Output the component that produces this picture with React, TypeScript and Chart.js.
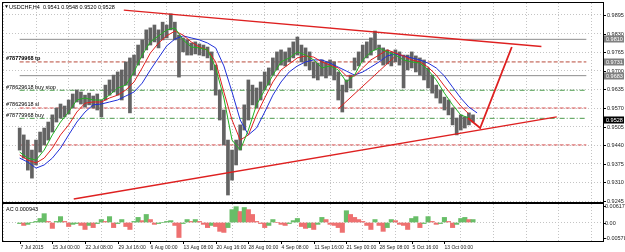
import React, { useEffect, useRef } from 'react';
import { Chart, registerables } from 'chart.js';
Chart.register(...registerables);

// ---------- data ----------
const SAMPLE_STEP = 4; // H4 bars per price / AC sample
const MA_STEP = 8; // H4 bars per moving-average sample
const TICK_STEP = 32; // H4 bars between time labels
const X_MAX = 555;

const timeLabels = [
  '7 Jul 2015', '15 Jul 00:00', '22 Jul 08:00', '29 Jul 16:00', '6 Aug 00:00', '13 Aug 08:00',
  '20 Aug 16:00', '28 Aug 00:00', '4 Sep 08:00', '11 Sep 16:00', '21 Sep 00:00', '28 Sep 08:00',
  '5 Oct 16:00', '13 Oct 00:00',
];

const highs = [
  0.9500, 0.9476, 0.9458, 0.9423, 0.9458, 0.9486, 0.9500, 0.9521, 0.9546, 0.9570,
  0.9584, 0.9577, 0.9598, 0.9619, 0.9633, 0.9626, 0.9615, 0.9622, 0.9612, 0.9619,
  0.9598, 0.9650, 0.9668, 0.9685, 0.9696, 0.9703, 0.9731, 0.9745, 0.9755, 0.9790,
  0.9808, 0.9843, 0.9850, 0.9860, 0.9843, 0.9870, 0.9860, 0.9899, 0.9870, 0.9825,
  0.9815, 0.9808, 0.9797, 0.9801, 0.9794, 0.9790, 0.9783, 0.9766, 0.9720, 0.9633,
  0.9563, 0.9458, 0.9423, 0.9458, 0.9511, 0.9581, 0.9668, 0.9650, 0.9640, 0.9661,
  0.9696, 0.9710, 0.9745, 0.9766, 0.9773, 0.9766, 0.9780, 0.9801, 0.9818, 0.9790,
  0.9780, 0.9766, 0.9731, 0.9727, 0.9738, 0.9731, 0.9738, 0.9731, 0.9696, 0.9650,
  0.9668, 0.9685, 0.9745, 0.9766, 0.9790, 0.9801, 0.9815, 0.9839, 0.9790, 0.9780,
  0.9773, 0.9766, 0.9773, 0.9766, 0.9755, 0.9755, 0.9766, 0.9752, 0.9745, 0.9738,
  0.9710, 0.9685, 0.9650, 0.9633, 0.9608, 0.9598, 0.9570, 0.9535, 0.9546, 0.9539,
  0.9553, 0.9546,
];
const lows = [
  0.9423, 0.9395, 0.9353, 0.9325, 0.9371, 0.9416, 0.9441, 0.9458, 0.9486, 0.9521,
  0.9535, 0.9539, 0.9549, 0.9570, 0.9591, 0.9584, 0.9573, 0.9581, 0.9570, 0.9563,
  0.9539, 0.9598, 0.9615, 0.9626, 0.9615, 0.9598, 0.9650, 0.9553, 0.9685, 0.9720,
  0.9745, 0.9773, 0.9790, 0.9801, 0.9780, 0.9808, 0.9815, 0.9843, 0.9808, 0.9678,
  0.9766, 0.9755, 0.9755, 0.9759, 0.9755, 0.9752, 0.9745, 0.9703, 0.9615, 0.9528,
  0.9441, 0.9266, 0.9318, 0.9371, 0.9423, 0.9493, 0.9528, 0.9581, 0.9570, 0.9598,
  0.9633, 0.9650, 0.9685, 0.9703, 0.9720, 0.9717, 0.9731, 0.9745, 0.9755, 0.9731,
  0.9717, 0.9703, 0.9675, 0.9668, 0.9682, 0.9675, 0.9685, 0.9668, 0.9598, 0.9556,
  0.9626, 0.9640, 0.9703, 0.9717, 0.9731, 0.9745, 0.9755, 0.9773, 0.9738, 0.9720,
  0.9724, 0.9717, 0.9731, 0.9720, 0.9640, 0.9703, 0.9710, 0.9696, 0.9685, 0.9668,
  0.9640, 0.9622, 0.9605, 0.9587, 0.9563, 0.9546, 0.9511, 0.9476, 0.9493, 0.9500,
  0.9511, 0.9521,
];

const maFast = [
  0.9416, 0.9395, 0.9388, 0.9423, 0.9476, 0.9521, 0.9556, 0.9598, 0.9605, 0.9598,
  0.9598, 0.9615, 0.9640, 0.9650, 0.9696, 0.9755, 0.9801, 0.9822, 0.9843, 0.9850,
  0.9808, 0.9783, 0.9780, 0.9773, 0.9710, 0.9605, 0.9458, 0.9423, 0.9493, 0.9581,
  0.9633, 0.9685, 0.9731, 0.9745, 0.9766, 0.9755, 0.9738, 0.9710, 0.9717, 0.9703,
  0.9661, 0.9685, 0.9738, 0.9766, 0.9780, 0.9766, 0.9755, 0.9738, 0.9731, 0.9727,
  0.9703, 0.9668, 0.9622, 0.9581, 0.9546, 0.9535, null,
];
const maMid = [
  0.9406, 0.9388, 0.9378, 0.9395, 0.9430, 0.9476, 0.9511, 0.9556, 0.9587, 0.9591,
  0.9591, 0.9605, 0.9615, 0.9633, 0.9661, 0.9710, 0.9762, 0.9797, 0.9822, 0.9839,
  0.9825, 0.9801, 0.9783, 0.9773, 0.9731, 0.9626, 0.9528, 0.9458, 0.9476, 0.9546,
  0.9605, 0.9661, 0.9703, 0.9724, 0.9745, 0.9752, 0.9748, 0.9731, 0.9720, 0.9710,
  0.9682, 0.9682, 0.9710, 0.9738, 0.9755, 0.9773, 0.9762, 0.9752, 0.9738, 0.9731,
  0.9713, 0.9685, 0.9647, 0.9612, 0.9577, 0.9549, null,
];
const maSlow = [
  0.9395, 0.9381, 0.9360, 0.9371, 0.9395, 0.9430, 0.9476, 0.9521, 0.9556, 0.9581,
  0.9584, 0.9591, 0.9598, 0.9612, 0.9626, 0.9657, 0.9703, 0.9745, 0.9787, 0.9811,
  0.9822, 0.9815, 0.9808, 0.9797, 0.9780, 0.9717, 0.9626, 0.9528, 0.9476, 0.9500,
  0.9556, 0.9615, 0.9661, 0.9696, 0.9717, 0.9731, 0.9738, 0.9738, 0.9727, 0.9713,
  0.9699, 0.9685, 0.9696, 0.9713, 0.9731, 0.9752, 0.9759, 0.9752, 0.9745, 0.9738,
  0.9727, 0.9710, 0.9682, 0.9643, 0.9605, 0.9573, 0.9553,
];

const acValues = [
  -0.0004, -0.0011, -0.0007, 0.0000, 0.0004, 0.0015, 0.0033, 0.0004, -0.0022, 0.0004,
  0.0022, 0.0004, -0.0015, -0.0007, -0.0004, -0.0011, -0.0026, -0.0011, -0.0019, -0.0004,
  0.0011, 0.0004, 0.0022, -0.0019, -0.0004, 0.0011, -0.0015, -0.0026, 0.0004, 0.0019,
  0.0007, 0.0030, 0.0011, -0.0007, -0.0004, 0.0000, 0.0004, 0.0007, -0.0011, -0.0056,
  -0.0004, 0.0011, 0.0004, 0.0011, 0.0004, -0.0007, -0.0019, -0.0011, -0.0015, -0.0033,
  -0.0037, -0.0019, 0.0048, 0.0059, 0.0041, 0.0056, 0.0048, 0.0030, 0.0004, -0.0004,
  -0.0019, -0.0011, 0.0011, 0.0000, -0.0007, -0.0011, -0.0004, 0.0007, 0.0015, -0.0015,
  -0.0022, -0.0019, -0.0026, -0.0007, 0.0019, 0.0011, -0.0007, -0.0011, -0.0019, -0.0037,
  0.0044, 0.0030, 0.0019, 0.0011, 0.0004, -0.0011, -0.0026, 0.0011, -0.0011, -0.0033,
  -0.0019, 0.0011, 0.0007, -0.0007, -0.0011, -0.0026, 0.0015, 0.0022, -0.0019, -0.0004,
  0.0022, 0.0004, -0.0007, -0.0004, 0.0019, 0.0004, -0.0019, -0.0007, 0.0015, 0.0019,
  0.0011, 0.0011,
];

const priceTicks = [0.9895, 0.9830, 0.9765, 0.9700, 0.9635, 0.9570, 0.9505, 0.9440, 0.9375, 0.9310, 0.9245];
const acTicks = [0.006172, 0, -0.00578];
const acTickLabels = ['0.006172', '0.00', '-0.00578'];
const headerText = 'USDCHF,H4  0.9541 0.9548 0.9520 0.9528';
const acText = 'AC 0.000943';

const greyLevels = [0.9810, 0.9683];
const orderLevels = [0.9731, 0.9632, 0.9570, 0.9534, 0.9441];
const orderNames = ['#78779968 tp', '#78629618 buy stop', '#78629618 sl', '#78779968 buy', ''];
const orderKinds = ['tp', 'pending', 'sl', 'buy', 'sl'];
const markerPrices = [0.9810, 0.9731, 0.9683];
const bidPrice = 0.9528;

const topTrend = [{ x: 102, y: 0.9912 }, { x: 511, y: 0.9785 }];
const bottomTrend = [{ x: 53, y: 0.9252 }, { x: 526, y: 0.9539 }];
const innerTrend = [{ x: 312, y: 0.9567 }, { x: 367, y: 0.9748 }];
const projection = [{ x: 439, y: 0.9535 }, { x: 451, y: 0.9500 }, { x: 482, y: 0.9783 }];

// ---------- styles ----------
const FONT = '"Liberation Sans", Arial, sans-serif';
const GRID = '#c4c4c4';
const RED = 'rgb(222,32,32)';
const kindStyle: Record<string, { color: string; dash: number[] }> = {
  tp: { color: '#b84a3a', dash: [4, 2] },
  pending: { color: '#4a9a4a', dash: [5, 2, 1, 2] },
  sl: { color: '#d65050', dash: [4, 2] },
  buy: { color: '#4a9a4a', dash: [5, 2, 1, 2] },
};

const gridTicks: number[] = [];
for (let v = 0; v <= X_MAX; v += TICK_STEP) gridTicks.push(v);

const lineDs = (data: any[], color: string, width = 1, dash: number[] = [], order = 2) => ({
  type: 'line' as const,
  data,
  borderColor: color,
  borderWidth: width,
  borderDash: dash,
  pointRadius: 0,
  tension: 0,
  fill: false,
  order,
});

const mainDecor = {
  id: 'mainDecor',
  afterDraw(chart: any) {
    const { ctx, chartArea: a, scales } = chart;
    const y = scales.y;
    ctx.save();
    ctx.strokeStyle = '#000';
    ctx.lineWidth = 1;
    ctx.strokeRect(a.left - 0.5, a.top - 0.5, a.right - a.left + 1, a.bottom - a.top + 1);
    ctx.fillStyle = '#000';
    ctx.fillRect(a.left - 1, a.bottom, a.right - a.left + 2, 2);

    ctx.font = `5.5px ${FONT}`;
    ctx.textBaseline = 'middle';
    ctx.textAlign = 'left';
    priceTicks.forEach((v) => {
      const py = Math.round(y.getPixelForValue(v)) + 0.5;
      ctx.strokeStyle = '#000';
      ctx.beginPath();
      ctx.moveTo(a.right, py);
      ctx.lineTo(a.right + 3, py);
      ctx.stroke();
      ctx.fillStyle = '#222';
      ctx.fillText(v.toFixed(4), a.right + 4, py);
    });
    const box = (v: number, bg: string) => {
      const py = Math.round(y.getPixelForValue(v));
      ctx.fillStyle = bg;
      ctx.fillRect(a.right + 1, py - 3.5, 20, 7);
      ctx.fillStyle = '#fff';
      ctx.fillText(v.toFixed(4), a.right + 3, py);
    };
    markerPrices.forEach((v) => box(v, '#808080'));
    box(bidPrice, '#000');

    // header
    ctx.fillStyle = '#000';
    ctx.font = `5px ${FONT}`;
    ctx.fillText('▼', a.left + 1, a.top + 4);
    ctx.font = `5.5px ${FONT}`;
    ctx.fillText(headerText, a.left + 6, a.top + 4);

    // order labels
    ctx.textBaseline = 'bottom';
    orderLevels.forEach((v, i) => {
      if (!orderNames[i]) return;
      const py = y.getPixelForValue(v);
      ctx.fillStyle = '#000';
      ctx.font = `${i === 0 ? 'bold ' : ''}5.5px ${FONT}`;
      ctx.fillText(orderNames[i], a.left + 3, py - 0.5);
    });
    ctx.restore();
  },
};

const acDecor = {
  id: 'acDecor',
  afterDraw(chart: any) {
    const { ctx, chartArea: a, scales } = chart;
    const y = scales.y;
    const x = scales.x;
    ctx.save();
    ctx.strokeStyle = '#000';
    ctx.lineWidth = 1;
    ctx.strokeRect(a.left - 0.5, a.top - 0.5, a.right - a.left + 1, a.bottom - a.top + 1);
    ctx.font = `5.5px ${FONT}`;
    ctx.textBaseline = 'middle';
    ctx.textAlign = 'left';
    acTicks.forEach((v, i) => {
      const py = Math.round(y.getPixelForValue(v)) + 0.5;
      ctx.beginPath();
      ctx.moveTo(a.right, py);
      ctx.lineTo(a.right + 3, py);
      ctx.stroke();
      ctx.fillStyle = '#222';
      ctx.fillText(acTickLabels[i], a.right + 2, py);
    });
    ctx.font = `5px ${FONT}`;
    timeLabels.forEach((t, i) => {
      const px = Math.round(x.getPixelForValue(i * TICK_STEP)) + 0.5;
      ctx.strokeStyle = '#000';
      ctx.beginPath();
      ctx.moveTo(px, a.bottom);
      ctx.lineTo(px, a.bottom + 3);
      ctx.stroke();
      ctx.fillStyle = '#222';
      ctx.fillText(t, px, a.bottom + 6.5);
    });
    ctx.fillStyle = '#000';
    ctx.font = `5.5px ${FONT}`;
    ctx.fillText(acText, a.left + 3, a.top + 5);
    ctx.restore();
  },
};

function mainConfig(): any {
  const bars = highs.map((h, i) => ({ x: i * SAMPLE_STEP, y: [lows[i], h] }));
  const ma = (arr: (number | null)[]) => arr.map((v, i) => ({ x: i * MA_STEP, y: v }));
  const datasets: any[] = [
    {
      type: 'bar',
      data: bars,
      backgroundColor: '#636363',
      barThickness: 3,
      grouped: false,
      order: 5,
    },
    lineDs(ma(maFast), '#22b022', 1, [], 3),
    lineDs(ma(maMid), '#e02020', 1, [], 3),
    lineDs(ma(maSlow), '#2030d8', 1, [], 3),
    lineDs(topTrend, RED, 1.5, [], 1),
    lineDs(bottomTrend, RED, 1.5, [], 1),
    lineDs(innerTrend, RED, 1, [], 1),
    lineDs(projection, RED, 1.8, [], 1),
  ];
  greyLevels.forEach((v) => datasets.push(lineDs([{ x: 0, y: v }, { x: X_MAX, y: v }], '#8c8c8c', 1, [], 8)));
  orderLevels.forEach((v, i) => {
    const s = kindStyle[orderKinds[i]];
    datasets.push(lineDs([{ x: 0, y: v }, { x: X_MAX, y: v }], s.color, 1, s.dash, 7));
  });
  return {
    type: 'bar',
    data: { datasets },
    options: {
      responsive: false,
      animation: false,
      devicePixelRatio: 1,
      events: [],
      layout: { padding: { left: 3, top: 3, right: 0, bottom: 2 } },
      plugins: { legend: { display: false }, tooltip: { enabled: false } },
      scales: {
        x: {
          type: 'linear',
          min: 0,
          max: X_MAX,
          afterBuildTicks: (s: any) => { s.ticks = gridTicks.map((v) => ({ value: v })); },
          afterFit: (s: any) => { s.height = 0; },
          ticks: { display: false },
          grid: { color: GRID, drawTicks: false },
          border: { display: false, dash: [1, 2] },
        },
        y: {
          position: 'right',
          min: 0.92416,
          max: 0.99369,
          afterBuildTicks: (s: any) => { s.ticks = priceTicks.map((v) => ({ value: v })); },
          afterFit: (s: any) => { s.width = 22; },
          ticks: { display: false },
          grid: { color: GRID, drawTicks: false },
          border: { display: false, dash: [1, 2] },
        },
      },
    },
    plugins: [mainDecor],
  };
}

function acConfig(): any {
  const data = acValues.map((v, i) => ({ x: i * SAMPLE_STEP, y: v }));
  const colors = acValues.map((v, i) => (i > 0 && v < acValues[i - 1] ? 'rgb(238,112,112)' : 'rgb(104,190,104)'));
  return {
    type: 'bar',
    data: {
      datasets: [{ data, backgroundColor: colors, barThickness: 4.4, grouped: false }],
    },
    options: {
      responsive: false,
      animation: false,
      devicePixelRatio: 1,
      events: [],
      layout: { padding: { left: 3, top: 1, right: 0, bottom: 0 } },
      plugins: { legend: { display: false }, tooltip: { enabled: false } },
      scales: {
        x: {
          type: 'linear',
          min: 0,
          max: X_MAX,
          afterBuildTicks: (s: any) => { s.ticks = gridTicks.map((v) => ({ value: v })); },
          afterFit: (s: any) => { s.height = 11; },
          ticks: { display: false },
          grid: { color: GRID, drawTicks: false },
          border: { display: false, dash: [1, 2] },
        },
        y: {
          position: 'right',
          min: -0.0069,
          max: 0.0069,
          afterBuildTicks: (s: any) => { s.ticks = [{ value: 0 }]; },
          afterFit: (s: any) => { s.width = 22; },
          ticks: { display: false },
          grid: { color: GRID, drawTicks: false },
          border: { display: false, dash: [1, 2] },
        },
      },
    },
    plugins: [acDecor],
  };
}

export default function App() {
  const mainRef = useRef<HTMLCanvasElement>(null);
  const acRef = useRef<HTMLCanvasElement>(null);
  useEffect(() => {
    document.body.style.margin = '0';
    const c1 = new Chart(mainRef.current as HTMLCanvasElement, mainConfig());
    const c2 = new Chart(acRef.current as HTMLCanvasElement, acConfig());
    return () => {
      c1.destroy();
      c2.destroy();
    };
  }, []);
  return (
    <div style={{ position: 'absolute', left: 0, top: 0, width: 625, height: 252, background: '#fff', overflow: 'hidden' }}>
      <canvas ref={mainRef} width={625} height={204} style={{ position: 'absolute', left: 0, top: 0 }} />
      <canvas ref={acRef} width={625} height={49} style={{ position: 'absolute', left: 0, top: 203 }} />
    </div>
  );
}
